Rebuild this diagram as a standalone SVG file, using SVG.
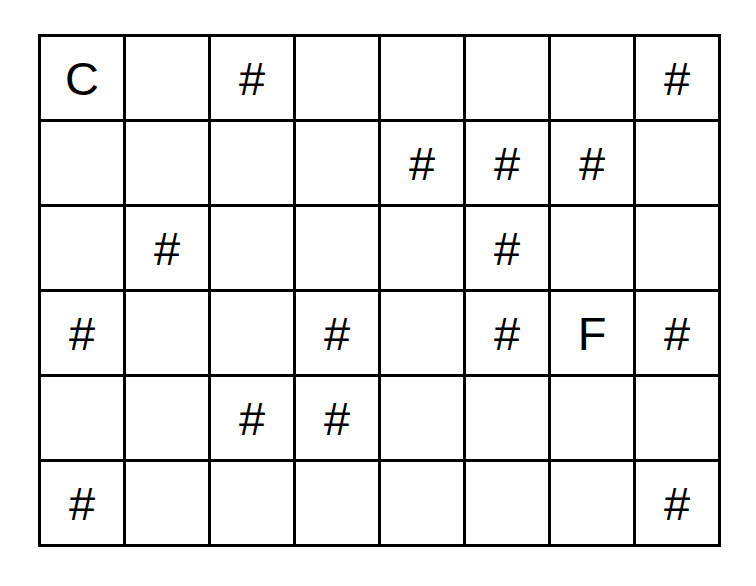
<svg xmlns="http://www.w3.org/2000/svg" width="756" height="586" viewBox="0 0 756 586">
<style>
.g{fill:none;stroke:#000;stroke-width:3}
.t{font-family:"Liberation Sans",Arial,sans-serif;font-size:47px;fill:#000;text-anchor:middle}
</style>
<rect width="756" height="586" fill="#fff"/>
<g id="grid" class="g">
<rect x="39.5" y="35.5" width="680" height="510"/>
<path d="M124.5 35.5V545.5M209.5 35.5V545.5M294.5 35.5V545.5M379.5 35.5V545.5M464.5 35.5V545.5M549.5 35.5V545.5M634.5 35.5V545.5M39.5 120.5H719.5M39.5 205.5H719.5M39.5 290.5H719.5M39.5 375.5H719.5M39.5 460.5H719.5"/>
</g>
<g id="labels" class="t">
<text x="82" y="95">C</text>
<text x="252" y="95">#</text>
<text x="677" y="95">#</text>
<text x="422" y="180">#</text>
<text x="507" y="180">#</text>
<text x="592" y="180">#</text>
<text x="167" y="265">#</text>
<text x="507" y="265">#</text>
<text x="82" y="350">#</text>
<text x="337" y="350">#</text>
<text x="507" y="350">#</text>
<text x="592" y="350">F</text>
<text x="677" y="350">#</text>
<text x="252" y="435">#</text>
<text x="337" y="435">#</text>
<text x="82" y="520">#</text>
<text x="677" y="520">#</text>
</g>
</svg>
